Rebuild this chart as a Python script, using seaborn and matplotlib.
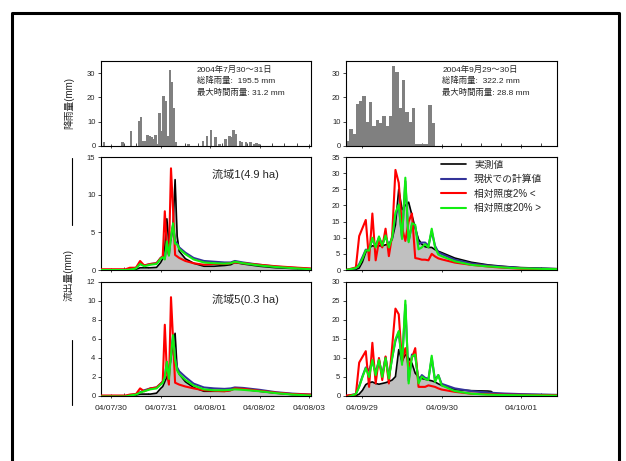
import numpy as np
import matplotlib
matplotlib.use('Agg')
import matplotlib.pyplot as plt
from matplotlib.lines import Line2D
import seaborn as sns

sns.set_theme(style='ticks')
plt.rcParams['font.family'] = ['Liberation Sans', 'Noto Sans CJK JP']

# rainfall (mm/h), hours from start of axis
rain_jul_hour = [1, 10, 14, 18, 19, 20, 21, 22, 23, 24, 25, 26, 27, 28, 29, 30, 31, 32, 33, 34, 35, 36,
                 42, 49, 51, 53, 55, 57, 60, 62, 63, 64, 65, 67, 68, 70, 72, 74, 75, 76]
rain_jul_mm = [1.5, 1.5, 6.0, 10.3, 12.0, 2.0, 2.0, 4.5, 4.0, 3.5, 2.8, 4.5, 1.0, 13.5, 6.0, 20.5, 18.5, 4.0,
               31.2, 26.5, 15.5, 1.5, 0.8, 2.0, 4.0, 6.5, 3.5, 1.0, 2.8, 4.0, 3.5, 6.5, 5.0, 2.0, 1.5, 1.8,
               1.5, 0.8, 1.2, 0.8]
rain_sep_mm = [2.2, 7.2, 5.0, 17.2, 18.4, 20.6, 9.7, 18.0, 8.1, 10.7, 9.4, 12.3, 8.1, 12.3, 32.9, 30.3,
               15.5, 27.1, 14.1, 9.7, 15.8, 1.0, 1.0, 1.0, 1.0, 16.7, 9.4]

# runoff, July event (hours)
t_jul = [0, 12, 14, 17, 19, 21, 24, 27, 29, 30, 31, 32, 33, 34, 35, 36, 37, 38, 41, 45, 50, 55, 60, 63,
         65, 69, 77, 85, 93, 102]
b1_obs = [0, 0, 0.05, 0.1, 0.3, 0.3, 0.3, 0.35, 1.0, 1.5, 3.0, 6.8, 3.5, 4.0, 6.0, 12.0, 4.5, 2.5, 1.5,
          0.9, 0.5, 0.5, 0.6, 0.7, 1.0, 0.8, 0.5, 0.3, 0.2, 0.1]
b1_now = [0, 0, 0.1, 0.3, 0.8, 0.6, 0.8, 0.9, 1.6, 1.8, 1.5, 3.5, 2.0, 4.5, 6.0, 3.8, 3.5, 3.0, 2.3,
          1.6, 1.2, 1.1, 1.0, 1.0, 1.2, 1.0, 0.7, 0.45, 0.3, 0.15]
b1_rel2 = [0.1, 0.1, 0.3, 0.3, 1.2, 0.6, 0.8, 0.9, 1.6, 1.8, 7.8, 3.0, 2.0, 13.5, 8.0, 2.0, 1.8, 1.6,
           1.2, 0.9, 0.7, 0.8, 0.8, 0.9, 1.0, 0.9, 0.7, 0.5, 0.35, 0.2]
b1_rel20 = [0, 0, 0.05, 0.2, 0.8, 0.5, 0.7, 0.8, 1.5, 1.7, 1.4, 3.8, 1.9, 4.3, 6.2, 3.5, 3.4, 2.8, 2.1,
            1.4, 1.0, 0.9, 0.85, 0.9, 1.1, 0.9, 0.6, 0.4, 0.25, 0.1]
b5_obs = [0, 0, 0.05, 0.1, 0.2, 0.2, 0.2, 0.3, 0.8, 1.0, 1.5, 2.0, 2.5, 4.0, 5.5, 6.6, 2.8, 2.3, 1.5,
          0.9, 0.5, 0.5, 0.5, 0.6, 0.8, 0.7, 0.5, 0.3, 0.15, 0.1]
b5_now = [0, 0, 0.1, 0.2, 0.4, 0.6, 0.8, 0.9, 1.3, 1.5, 2.0, 3.6, 2.0, 4.5, 6.4, 4.0, 3.0, 2.6, 2.0,
          1.3, 0.9, 0.8, 0.75, 0.8, 0.9, 0.85, 0.65, 0.4, 0.25, 0.15]
b5_rel2 = [0.05, 0.05, 0.15, 0.2, 0.8, 0.5, 0.8, 0.9, 1.3, 1.5, 7.5, 2.5, 1.2, 10.4, 6.0, 1.4, 1.3, 1.2,
           1.0, 0.8, 0.6, 0.55, 0.5, 0.6, 0.8, 0.75, 0.55, 0.35, 0.2, 0.15]
b5_rel20 = [-0.05, -0.05, 0.05, 0.15, 0.35, 0.5, 0.7, 0.8, 1.2, 1.4, 2.0, 3.6, 1.8, 4.3, 6.4, 3.8, 2.7,
            2.3, 1.7, 1.1, 0.7, 0.6, 0.6, 0.65, 0.7, 0.65, 0.5, 0.3, 0.15, 0.05]

# runoff, September event (hours)
t_sep = [0, 3, 4, 5, 6, 7, 8, 9, 10, 11, 12, 13, 14, 15, 16, 17, 18, 19, 20, 21, 22, 23, 24, 25, 26,
         27, 28, 29, 33, 38, 43, 44, 45, 48, 53, 64]
s1_obs = [0, 0.2, 0.6, 2.5, 5.5, 6.8, 7.5, 7.3, 7.5, 7.5, 7.8, 8.0, 9.5, 14.0, 25.0, 18.7, 20.0, 21.0,
          17.0, 13.0, 9.5, 8.0, 7.2, 7.0, 7.0, 6.3, 5.8, 5.4, 3.7, 2.4, 1.6, 1.5, 1.4, 1.1, 0.75, 0.4]
s1_now = [0, 0.5, 1.8, 4.0, 6.3, 6.2, 9.5, 7.5, 10.0, 8.0, 10.5, 7.5, 10.0, 17.0, 20.0, 10.0, 27.5, 9.0,
          14.0, 13.5, 8.0, 8.5, 8.5, 7.5, 12.0, 7.5, 5.5, 5.0, 3.2, 2.0, 1.4, 1.3, 1.2, 1.0, 0.6, 0.3]
s1_rel2 = [0, 0.8, 10.5, 13.0, 15.5, 3.0, 17.5, 3.0, 9.0, 7.0, 12.8, 4.3, 10.7, 31.0, 27.0, 13.0, 9.0,
           15.0, 17.5, 3.7, 3.5, 3.2, 3.2, 3.0, 5.0, 4.2, 3.6, 3.3, 2.3, 1.6, 1.1, 1.0, 0.9, 0.7, 0.4, 0.2]
s1_rel20 = [0, 0.6, 1.5, 3.5, 6.1, 6.0, 10.0, 7.0, 10.4, 7.5, 10.7, 7.0, 10.0, 17.7, 20.3, 9.6, 28.6,
            8.6, 14.5, 14.0, 6.4, 7.0, 8.0, 7.0, 12.8, 7.0, 4.8, 4.3, 2.7, 1.6, 1.1, 1.05, 1.0, 0.75,
            0.5, 0.25]
s5_obs = [0, 0.1, 0.5, 1.5, 3.0, 3.5, 3.7, 3.3, 3.1, 3.3, 3.5, 3.8, 4.2, 5.1, 12.2, 9.1, 10.9, 10.0,
          8.6, 6.0, 5.0, 4.6, 4.4, 4.2, 4.0, 3.7, 3.2, 2.8, 1.7, 1.4, 1.3, 1.2, 0.5, 0.4, 0.35, 0.3]
s5_now = [0, 0.5, 2.6, 5.2, 7.5, 6.7, 9.3, 6.0, 9.5, 5.5, 10.2, 5.0, 10.0, 14.5, 16.8, 8.8, 24.0, 4.0,
          10.9, 10.5, 4.0, 5.5, 4.8, 4.5, 10.0, 4.2, 5.5, 3.2, 2.0, 1.3, 0.9, 0.85, 0.8, 0.65, 0.5, 0.3]
s5_rel2 = [0.1, 0.4, 8.8, 10.3, 11.8, 2.4, 14.0, 3.3, 10.0, 4.2, 10.4, 3.3, 13.0, 23.0, 21.5, 9.0, 12.6,
           7.7, 10.0, 12.6, 2.4, 2.4, 2.4, 2.8, 2.6, 2.4, 2.0, 1.7, 1.1, 0.6, 0.45, 0.42, 0.4, 0.35,
           0.3, 0.2]
s5_rel20 = [-0.4, 0.5, 2.4, 5.0, 7.3, 5.0, 9.5, 5.5, 9.5, 5.0, 10.0, 4.6, 10.0, 14.9, 17.1, 8.2, 25.1,
            3.3, 10.4, 10.9, 3.3, 5.1, 4.5, 4.2, 10.6, 3.7, 5.5, 2.8, 1.3, 0.6, 0.35, 0.33, 0.3, 0.25,
            0.2, 0.1]

jul_ticks = [5, 29, 53, 77, 101]
jul_labels = ['04/07/30', '04/07/31', '04/08/01', '04/08/02', '04/08/03']
sep_ticks = [5, 29, 53]
sep_labels = ['04/09/29', '04/09/30', '04/10/01']
legend_labels = ['実測値', '現状での計算値', '相対照度2% <', '相対照度20% >']

fig = plt.figure(figsize=(6.26, 4.61), dpi=100)

col_x = [0.1613, 0.5527]
col_w = [0.3355, 0.3371]
row_y = [0.6833, 0.4143, 0.1410]
row_h = [0.1844, 0.2451, 0.2473]
xmax = [102, 64]


def style(ax, c, ticks, labels, show_labels):
    ax.set_xlim(0, xmax[c])
    ax.set_xticks(ticks)
    ax.set_xticks(np.arange(5, xmax[c], 6), minor=True)
    if show_labels:
        ax.set_xticklabels(labels)
    else:
        ax.set_xticklabels([])
    ax.tick_params(axis='x', which='major', direction='inout', length=3, width=0.6,
                   labelsize=6, pad=5)
    ax.tick_params(axis='x', which='minor', direction='in', length=2, width=0.6)
    ax.tick_params(axis='y', direction='out', length=2, width=0.6, labelsize=5.5, pad=2)
    ax.set_xlabel('')
    ax.set_ylabel('')
    for s in ax.spines.values():
        s.set_linewidth(0.8)
        s.set_color('black')


def flow(ax, t, obs, now, rel2, rel20):
    ax.fill_between(t, 0, obs, color='#c0c0c0', lw=0, zorder=1)
    sns.lineplot(x=t, y=obs, color='black', lw=1.2, ax=ax, zorder=2)
    sns.lineplot(x=t, y=now, color='#333399', lw=1.5, ax=ax, zorder=3)
    sns.lineplot(x=t, y=rel2, color='#ff0000', lw=1.5, ax=ax, zorder=4)
    sns.lineplot(x=t, y=rel20, color='#11ee11', lw=1.5, ax=ax, zorder=5)


# rainfall panels
rain_jul = np.zeros(102)
rain_jul[rain_jul_hour] = rain_jul_mm
rain_sets = [(np.arange(102) + 0.5, rain_jul), (np.arange(len(rain_sep_mm)) + 0.5, np.array(rain_sep_mm))]
bar_w = [1.25, 1.0]
notes = [['2004年7月30～31日', '総降雨量:  195.5 mm', '最大時間雨量: 31.2 mm'],
         ['2004年9月29～30日', '総降雨量:  322.2 mm', '最大時間雨量: 28.8 mm']]
for c in range(2):
    ax = fig.add_axes([col_x[c], row_y[0], col_w[c], row_h[0]])
    hx, hv = rain_sets[c]
    sns.barplot(x=hx, y=hv, native_scale=True, color='#808080', saturation=1, width=bar_w[c],
                linewidth=0, ax=ax)
    ax.set_ylim(0, 35)
    ax.set_yticks([0, 10, 20, 30])
    style(ax, c, [jul_ticks, sep_ticks][c], None, False)
    for k, ty in enumerate([0.894, 0.765, 0.624]):
        ax.text(0.457, ty, notes[c][k], transform=ax.transAxes, fontsize=6, va='center')

# runoff panels
ax = fig.add_axes([col_x[0], row_y[1], col_w[0], row_h[1]])
flow(ax, t_jul, b1_obs, b1_now, b1_rel2, b1_rel20)
ax.set_ylim(0, 15)
ax.set_yticks([0, 5, 10, 15])
style(ax, 0, jul_ticks, jul_labels, False)
ax.text(0.529, 0.85, '流域1(4.9 ha)', transform=ax.transAxes, fontsize=8, va='center')

ax = fig.add_axes([col_x[0], row_y[2], col_w[0], row_h[2]])
flow(ax, t_jul, b5_obs, b5_now, b5_rel2, b5_rel20)
ax.set_ylim(0, 12)
ax.set_yticks([0, 2, 4, 6, 8, 10, 12])
style(ax, 0, jul_ticks, jul_labels, True)
ax.text(0.529, 0.85, '流域5(0.3 ha)', transform=ax.transAxes, fontsize=8, va='center')

ax = fig.add_axes([col_x[1], row_y[1], col_w[1], row_h[1]])
flow(ax, t_sep, s1_obs, s1_now, s1_rel2, s1_rel20)
ax.set_ylim(0, 35)
ax.set_yticks([0, 5, 10, 15, 20, 25, 30, 35])
style(ax, 1, sep_ticks, sep_labels, False)
ax.legend(ax.get_lines()[:4], legend_labels, loc='upper left', bbox_to_anchor=(0.45, 0.975),
          frameon=False, fontsize=7, handlelength=2.6, handletextpad=0.8, labelspacing=0.45,
          borderpad=0, borderaxespad=0)

ax = fig.add_axes([col_x[1], row_y[2], col_w[1], row_h[2]])
flow(ax, t_sep, s5_obs, s5_now, s5_rel2, s5_rel20)
ax.set_ylim(0, 30)
ax.set_yticks([0, 5, 10, 15, 20, 25, 30])
style(ax, 1, sep_ticks, sep_labels, True)

fig.text(69 / 626, 1 - 103 / 461, '降雨量(mm)', rotation=90, ha='center', va='center', fontsize=7)
fig.text(69 / 626, 1 - 275 / 461, '流出量(mm)', rotation=90, ha='center', va='center', fontsize=7)

# stray marks and outer frame of the page
fig.add_artist(Line2D([0.115, 0.115], [0.657, 0.512], transform=fig.transFigure, color='black', lw=0.8))
fig.add_artist(Line2D([0.115, 0.115], [0.2625, 0.1215], transform=fig.transFigure, color='black', lw=0.8))
fig.add_artist(Line2D([0.0192, 0.0192, 0.9888, 0.9888], [-0.01, 0.9718, 0.9718, -0.01],
                      transform=fig.transFigure, color='black', lw=2.2))

fig.savefig('out.png', dpi=100)
